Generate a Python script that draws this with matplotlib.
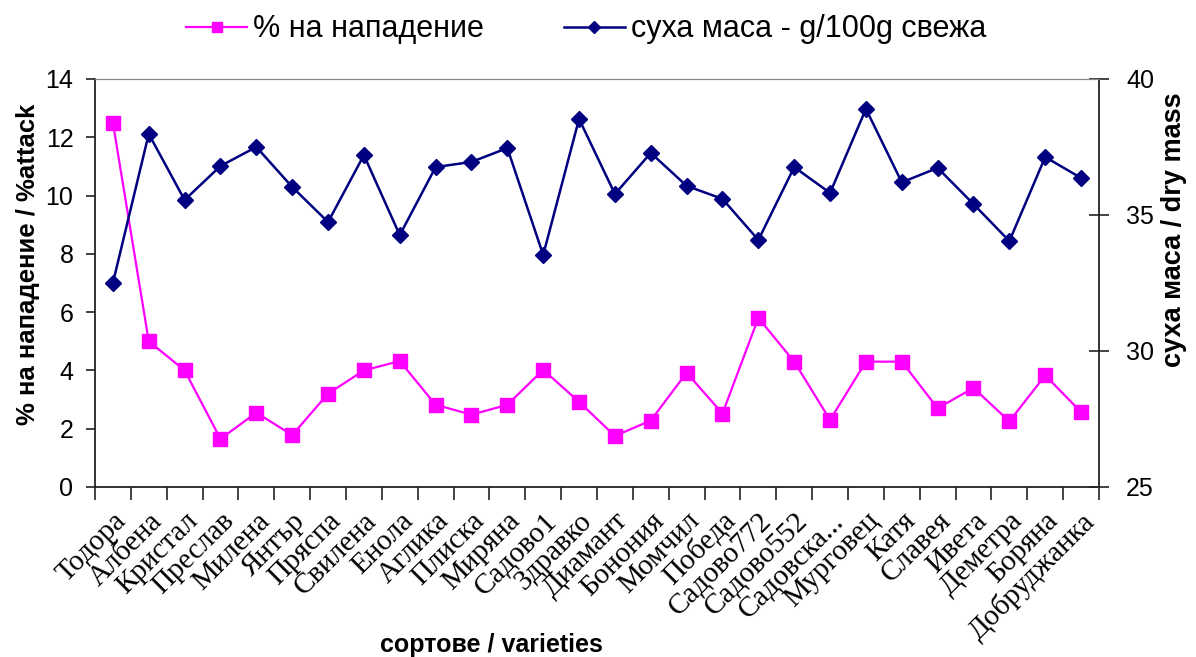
import matplotlib
matplotlib.use("Agg")
import matplotlib.pyplot as plt
import numpy as np

varieties = ["Тодора", "Албена", "Кристал", "Преслав", "Милена", "Янтър", "Пряспа",
             "Свилена", "Енола", "Аглика", "Плиска", "Миряна", "Садово1", "Здравко",
             "Диамант", "Бонония", "Момчил", "Победа", "Садово772", "Садово552",
             "Садовска...", "Мурговец", "Катя", "Славея", "Ивета", "Деметра",
             "Боряна", "Добруджанка"]
attack = [12.5, 5.0, 4.0, 1.65, 2.55, 1.78, 3.2, 4.0, 4.32, 2.82, 2.48, 2.82, 4.02,
          2.92, 1.75, 2.28, 3.92, 2.52, 5.8, 4.3, 2.3, 4.3, 4.3, 2.7, 3.4, 2.25,
          3.83, 2.57]
dry_mass = [32.5, 37.98, 35.55, 36.8, 37.5, 36.03, 34.74, 37.2, 34.26, 36.76, 36.95,
            37.46, 33.53, 38.53, 35.77, 37.28, 36.07, 35.59, 34.08, 36.76, 35.81,
            38.9, 36.2, 36.73, 35.4, 34.04, 37.13, 36.36]
left_ticks = [0, 2, 4, 6, 8, 10, 12, 14]
right_ticks = [25, 30, 35, 40]

fig = plt.figure(figsize=(11.96, 6.57), dpi=100)
ax = fig.add_axes([0.0794, 0.2588, 0.9189 - 0.0794, 0.8798 - 0.2588])
ax2 = ax.twinx()

x = np.arange(len(varieties))
l1, = ax.plot(x, attack, color="#FF00FF", lw=1.6, marker="s", ms=10,
              label="% на нападение")
l2, = ax2.plot(x, dry_mass, color="#000080", lw=1.8, marker="D", ms=8,
               label="суха маса - g/100g свежа")

ax.set_xlim(-0.5, len(varieties) - 0.5)
ax.set_ylim(0, 14)
ax2.set_ylim(25, 40)
ax.set_yticks(left_ticks)
ax2.set_yticks(right_ticks)

sans = ["Liberation Sans", "DejaVu Sans"]
serif = ["Liberation Serif", "DejaVu Serif"]

ax.set_xticks(x)
ax.set_xticklabels(varieties, rotation=45, ha="right", rotation_mode="anchor",
                   family=serif, fontsize=21)
ax.tick_params(axis="x", which="major", length=0, pad=15)
ax.set_xticks(np.arange(-0.5, len(varieties), 1), minor=True)
ax.tick_params(axis="x", which="minor", length=9, width=1.2, color="#222222", direction="out")

ax.tick_params(axis="y", length=6.5, width=1.2, color="#222222", direction="out",
               labelsize=18, pad=9)
for t in ax.get_yticklabels():
    t.set_family(sans)
ax2.tick_params(axis="y", length=15, width=1.2, color="#222222", direction="inout",
                labelsize=18, pad=12)
for t in ax2.get_yticklabels():
    t.set_family(sans)

for sp in ["left", "bottom"]:
    ax.spines[sp].set_color("#222222")
    ax.spines[sp].set_linewidth(1.3)
ax2.spines["right"].set_color("#222222")
ax2.spines["right"].set_linewidth(1.3)
ax.spines["top"].set_color("#888888")
ax2.spines["top"].set_color("#888888")
ax.spines["right"].set_visible(False)
ax2.spines["left"].set_visible(False)
ax2.spines["bottom"].set_visible(False)

ax.set_ylabel("% на нападение / %attack", family=sans, fontsize=18.5,
              fontweight="bold", labelpad=4)
ax.yaxis.label.set_y(0.545)
ax2.set_ylabel("суха маса / dry mass", family=sans, fontsize=19.5,
               fontweight="bold", labelpad=5)
ax2.yaxis.label.set_y(0.63)
fig.text(0.411, 0.0, "сортове / varieties", family=sans, fontsize=18,
         fontweight="bold", ha="center", va="bottom")

fig.legend(handles=[l1, l2], loc="upper center", bbox_to_anchor=(0.49, 1.02),
           ncol=2, frameon=False, prop={"family": sans, "size": 22},
           handlelength=2.0, columnspacing=2.6, handletextpad=0.2, markerscale=0.75)

fig.savefig("out.png", dpi=100)
